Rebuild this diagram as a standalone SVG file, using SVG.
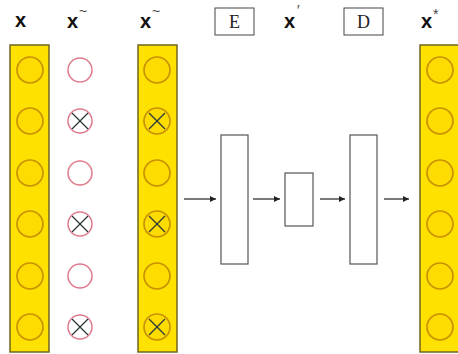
<svg xmlns="http://www.w3.org/2000/svg" width="458" height="354" viewBox="0 0 458 354">
  <defs>
    <style>
      .bar { fill: #ffe100; stroke: #6f6420; stroke-width: 1.5; }
      .unit { fill: #ffdc00; stroke: #c99200; stroke-width: 1.7; }
      .drop { fill: #ffffff; stroke: #e07a8c; stroke-width: 1.5; }
      .cross { stroke: #2a3a3a; stroke-width: 1.3; }
      .layer { fill: #ffffff; stroke: #555555; stroke-width: 1.2; }
      .lbl { font-family: "Liberation Sans", Arial, sans-serif; font-weight: bold; font-size: 20px; fill: #111111; }
      .sup { font-family: "Liberation Sans", Arial, sans-serif; font-size: 14px; fill: #444444; }
      .box { fill: #ffffff; stroke: #444444; stroke-width: 1; }
      .boxtxt { font-family: "Liberation Serif", "Times New Roman", serif; font-size: 18px; fill: #222222; }
      .conn { stroke: #222222; stroke-width: 1.2; fill: none; }
    </style>
    <marker id="arr" markerWidth="8" markerHeight="8" refX="6" refY="3" orient="auto" markerUnits="userSpaceOnUse">
      <path d="M0,0 L6,3 L0,6 Z" fill="#222222"/>
    </marker>
    <g id="cx">
      <line class="cross" x1="-8" y1="-8" x2="8" y2="8"/>
      <line class="cross" x1="8" y1="-8" x2="-8" y2="8"/>
    </g>
  </defs>

  <rect width="458" height="354" fill="#ffffff"/>

  <!-- labels -->
  <g id="labels">
    <text class="lbl" x="15" y="27">x</text>
    <text class="lbl" x="67" y="28">x</text><text class="sup" x="79" y="16">~</text>
    <text class="lbl" x="140" y="28">x</text><text class="sup" x="152" y="16">~</text>
    <text class="lbl" x="284" y="28">x</text><text class="sup" x="297" y="15">′</text>
    <text class="lbl" x="421" y="28">x</text><text class="sup" x="433" y="19">*</text>
  </g>

  <!-- input column -->
  <g id="input">
    <rect class="bar" x="10" y="45" width="39" height="307"/>
    <circle class="unit" cx="30" cy="70" r="13"/>
    <circle class="unit" cx="30" cy="121" r="13"/>
    <circle class="unit" cx="30" cy="173" r="13"/>
    <circle class="unit" cx="30" cy="224" r="13"/>
    <circle class="unit" cx="30" cy="276" r="13"/>
    <circle class="unit" cx="30" cy="327" r="13"/>
  </g>

  <!-- corruption mask -->
  <g id="mask">
    <circle class="drop" cx="80" cy="70" r="12"/>
    <circle class="drop" cx="80" cy="121" r="12"/>
    <use href="#cx" x="80" y="121"/>
    <circle class="drop" cx="80" cy="173" r="12"/>
    <circle class="drop" cx="80" cy="224" r="12"/>
    <use href="#cx" x="80" y="224"/>
    <circle class="drop" cx="80" cy="276" r="12"/>
    <circle class="drop" cx="80" cy="327" r="12"/>
    <use href="#cx" x="80" y="327"/>
  </g>

  <!-- corrupted input column -->
  <g id="corrupted">
    <rect class="bar" x="138" y="45" width="39" height="307"/>
    <circle class="unit" cx="157" cy="70" r="13"/>
    <circle class="unit" cx="157" cy="121" r="13"/>
    <use href="#cx" x="157" y="121"/>
    <circle class="unit" cx="157" cy="173" r="13"/>
    <circle class="unit" cx="157" cy="224" r="13"/>
    <use href="#cx" x="157" y="224"/>
    <circle class="unit" cx="157" cy="276" r="13"/>
    <circle class="unit" cx="157" cy="327" r="13"/>
    <use href="#cx" x="157" y="327"/>
  </g>

  <!-- encoder / decoder tags -->
  <g id="tag-E">
    <rect class="box" x="215" y="8" width="39" height="27"/>
    <text class="boxtxt" x="234.5" y="28" text-anchor="middle">E</text>
  </g>
  <g id="tag-D">
    <rect class="box" x="344" y="8" width="39" height="27"/>
    <text class="boxtxt" x="363.5" y="28" text-anchor="middle">D</text>
  </g>

  <!-- layers -->
  <g id="encoder"><rect class="layer" x="221" y="135" width="27" height="129"/></g>
  <g id="code"><rect class="layer" x="285" y="173" width="28" height="53"/></g>
  <g id="decoder"><rect class="layer" x="350" y="135" width="27" height="129"/></g>

  <!-- output column -->
  <g id="output">
    <rect class="bar" x="420" y="45" width="40" height="307"/>
    <circle class="unit" cx="440" cy="70" r="13"/>
    <circle class="unit" cx="440" cy="121" r="13"/>
    <circle class="unit" cx="440" cy="173" r="13"/>
    <circle class="unit" cx="440" cy="224" r="13"/>
    <circle class="unit" cx="440" cy="276" r="13"/>
    <circle class="unit" cx="440" cy="327" r="13"/>
  </g>

  <!-- connectors -->
  <g id="connectors">
    <line class="conn" x1="184" y1="199" x2="216" y2="199" marker-end="url(#arr)"/>
    <line class="conn" x1="253" y1="199" x2="280" y2="199" marker-end="url(#arr)"/>
    <line class="conn" x1="320" y1="199" x2="345" y2="199" marker-end="url(#arr)"/>
    <line class="conn" x1="384" y1="199" x2="409" y2="199" marker-end="url(#arr)"/>
  </g>
</svg>
